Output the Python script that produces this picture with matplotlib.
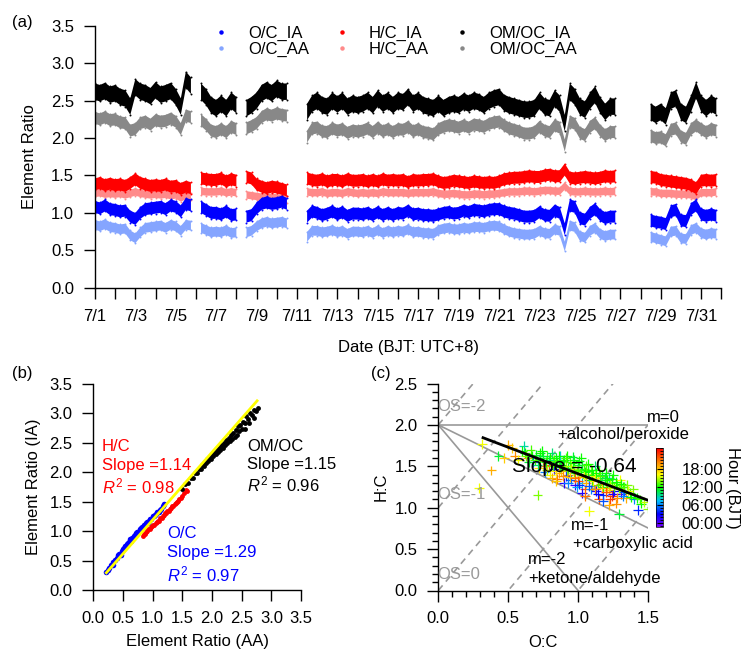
import numpy as np
import matplotlib.pyplot as plt
from matplotlib.colors import LinearSegmentedColormap, Normalize
from matplotlib.lines import Line2D
from matplotlib.ticker import MultipleLocator, FormatStrFormatter

plt.rcParams['font.family'] = ['Liberation Sans', 'DejaVu Sans']
plt.rcParams['font.size'] = 12
plt.rcParams['mathtext.fontset'] = 'custom'
plt.rcParams['mathtext.rm'] = 'Liberation Sans'
plt.rcParams['mathtext.it'] = 'Liberation Sans:italic'

nan = np.nan

# === (a) TIME SERIES, 4 values per day (00, 06, 12, 18 h), days since 7/1 ===
t_days = np.arange(0, 31, 0.25)
tick_days = np.arange(0, 32)
date_labels = ['7/1', '7/3', '7/5', '7/7', '7/9', '7/11', '7/13', '7/15',
               '7/17', '7/19', '7/21', '7/23', '7/25', '7/27', '7/29', '7/31']

omoc_ia = [
    [2.62, 2.60, 2.63, 2.58], [2.60, 2.55, 2.53, 2.42], [2.68, 2.62, 2.60, 2.56],
    [2.64, 2.58, 2.60, 2.63], [2.55, 2.42, 2.78, 2.70], [nan, 2.62, 2.55, 2.44],
    [2.40, 2.46, 2.40, 2.50], [2.44, nan, 2.40, 2.44], [2.50, 2.60, 2.64, 2.60],
    [2.66, 2.62, 2.62, nan], [nan, nan, 2.35, 2.46], [2.50, 2.44, 2.42, 2.50],
    [2.45, 2.50, 2.42, 2.46], [2.44, 2.46, 2.50, 2.44], [2.53, 2.46, 2.50, 2.44],
    [2.50, 2.48, 2.55, 2.46], [2.50, 2.44, 2.42, 2.40], [2.46, 2.40, 2.44, 2.46],
    [2.44, 2.49, 2.46, 2.50], [2.48, 2.44, 2.50, 2.53], [2.55, 2.47, 2.44, 2.42],
    [2.40, 2.38, 2.38, 2.40], [2.50, 2.42, 2.40, 2.53], [2.46, 2.20, 2.62, 2.55],
    [2.42, 2.38, 2.50, 2.58], [2.44, 2.35, 2.42, 2.42], [nan, nan, nan, nan],
    [nan, nan, 2.35, 2.31], [2.35, 2.29, 2.50, 2.53], [2.35, 2.31, 2.46, 2.64],
    [2.46, 2.40, 2.46, 2.42]]
omoc_aa = [
    [2.27, 2.25, 2.28, 2.24], [2.25, 2.21, 2.20, 2.10], [2.12, 2.20, 2.22, 2.18],
    [2.24, 2.22, 2.23, 2.26], [2.22, 2.12, 2.30, 2.28], [nan, 2.24, 2.18, 2.10],
    [2.08, 2.12, 2.08, 2.15], [2.12, nan, 2.13, 2.16], [2.20, 2.28, 2.32, 2.30],
    [2.33, 2.31, 2.30, nan], [nan, nan, 2.02, 2.13], [2.14, 2.09, 2.08, 2.13],
    [2.10, 2.12, 2.07, 2.10], [2.09, 2.10, 2.13, 2.08], [2.14, 2.09, 2.12, 2.08],
    [2.12, 2.11, 2.15, 2.09], [2.12, 2.08, 2.07, 2.05], [2.12, 2.15, 2.17, 2.16],
    [2.14, 2.17, 2.14, 2.18], [2.17, 2.15, 2.19, 2.21], [2.22, 2.17, 2.13, 2.11],
    [2.09, 2.06, 2.06, 2.08], [2.15, 2.10, 2.08, 2.17], [2.14, 1.90, 2.22, 2.19],
    [2.07, 2.04, 2.15, 2.20], [2.10, 2.04, 2.08, 2.08], [nan, nan, nan, nan],
    [nan, nan, 2.03, 2.00], [2.01, 1.97, 2.11, 2.13], [2.02, 1.99, 2.12, 2.17],
    [2.12, 2.08, 2.12, 2.10]]
hc_ia = [
    [1.38, 1.40, 1.37, 1.39], [1.37, 1.38, 1.36, 1.40], [1.45, 1.40, 1.38, 1.36],
    [1.37, 1.36, 1.38, 1.35], [1.36, 1.32, 1.35, 1.33], [nan, 1.46, 1.45, 1.44],
    [1.44, 1.46, 1.42, 1.45], [1.43, nan, 1.48, 1.46], [1.38, 1.35, 1.33, 1.35],
    [1.34, 1.32, 1.30, nan], [nan, nan, 1.46, 1.44], [1.43, 1.45, 1.42, 1.44],
    [1.44, 1.42, 1.45, 1.43], [1.43, 1.44, 1.42, 1.44], [1.42, 1.45, 1.43, 1.44],
    [1.43, 1.44, 1.41, 1.44], [1.43, 1.44, 1.44, 1.45], [1.42, 1.40, 1.41, 1.43],
    [1.42, 1.41, 1.40, 1.42], [1.41, 1.40, 1.41, 1.40], [1.42, 1.45, 1.46, 1.47],
    [1.47, 1.48, 1.49, 1.48], [1.48, 1.50, 1.51, 1.49], [1.49, 1.58, 1.47, 1.46],
    [1.47, 1.48, 1.47, 1.46], [1.47, 1.49, 1.48, 1.49], [nan, nan, nan, nan],
    [nan, nan, 1.48, 1.47], [1.44, 1.43, 1.42, 1.41], [1.40, 1.39, 1.37, 1.33],
    [1.43, 1.44, 1.43, 1.44]]
hc_aa = [
    [1.26, 1.27, 1.25, 1.26], [1.25, 1.26, 1.24, 1.26], [1.28, 1.26, 1.25, 1.24],
    [1.25, 1.24, 1.25, 1.23], [1.24, 1.20, 1.23, 1.22], [nan, 1.29, 1.28, 1.28],
    [1.28, 1.29, 1.27, 1.28], [1.27, nan, 1.24, 1.23], [1.22, 1.21, 1.20, 1.21],
    [1.20, 1.19, 1.18, nan], [nan, nan, 1.28, 1.27], [1.27, 1.28, 1.26, 1.27],
    [1.27, 1.26, 1.28, 1.27], [1.26, 1.27, 1.26, 1.27], [1.26, 1.28, 1.27, 1.27],
    [1.27, 1.27, 1.26, 1.27], [1.27, 1.27, 1.27, 1.28], [1.26, 1.25, 1.25, 1.26],
    [1.25, 1.24, 1.24, 1.25], [1.25, 1.24, 1.25, 1.25], [1.26, 1.27, 1.28, 1.28],
    [1.28, 1.29, 1.29, 1.28], [1.29, 1.30, 1.30, 1.29], [1.29, 1.36, 1.29, 1.28],
    [1.28, 1.29, 1.28, 1.28], [1.28, 1.29, 1.28, 1.29], [nan, nan, nan, nan],
    [nan, nan, 1.28, 1.28], [1.26, 1.26, 1.26, 1.25], [1.25, 1.25, 1.24, 1.22],
    [1.27, 1.27, 1.27, 1.28]]
oc_ia = [
    [1.08, 1.06, 1.10, 1.05], [1.04, 1.02, 1.03, 0.95], [0.92, 1.00, 1.05, 1.06],
    [1.07, 1.08, 1.05, 1.10], [1.08, 1.02, 1.12, 1.10], [nan, 1.08, 1.04, 1.00],
    [1.00, 0.98, 1.02, 0.97], [0.98, nan, 0.95, 0.97], [1.06, 1.12, 1.14, 1.12],
    [1.13, 1.15, 1.12, nan], [nan, nan, 0.95, 1.02], [1.00, 0.97, 0.99, 1.02],
    [0.98, 1.01, 0.96, 0.99], [0.99, 0.98, 1.00, 0.97], [1.01, 0.97, 1.00, 0.97],
    [1.00, 0.99, 1.03, 0.98], [0.99, 0.97, 0.97, 0.96], [0.98, 1.00, 1.01, 0.99],
    [1.00, 1.03, 1.01, 1.04], [1.03, 1.02, 1.04, 1.05], [1.05, 1.02, 1.00, 0.99],
    [0.97, 0.95, 0.95, 0.96], [1.01, 0.97, 0.96, 1.03], [1.00, 0.78, 1.10, 1.08],
    [0.93, 0.91, 1.00, 1.05], [0.97, 0.93, 0.95, 0.95], [nan, nan, nan, nan],
    [nan, nan, 0.90, 0.88], [0.87, 0.85, 1.02, 1.04], [0.90, 0.89, 1.05, 1.10],
    [0.98, 0.96, 0.98, 0.96]]
oc_aa = [
    [0.84, 0.82, 0.85, 0.81], [0.80, 0.78, 0.79, 0.70], [0.66, 0.74, 0.80, 0.81],
    [0.82, 0.83, 0.80, 0.84], [0.82, 0.76, 0.84, 0.83], [nan, 0.80, 0.77, 0.74],
    [0.75, 0.74, 0.77, 0.73], [0.74, nan, 0.74, 0.76], [0.82, 0.86, 0.88, 0.86],
    [0.87, 0.88, 0.86, nan], [nan, nan, 0.68, 0.76], [0.76, 0.74, 0.75, 0.77],
    [0.74, 0.76, 0.72, 0.75], [0.75, 0.74, 0.76, 0.73], [0.77, 0.73, 0.76, 0.74],
    [0.76, 0.75, 0.78, 0.74], [0.75, 0.73, 0.73, 0.72], [0.77, 0.79, 0.80, 0.78],
    [0.78, 0.80, 0.79, 0.81], [0.81, 0.80, 0.82, 0.83], [0.82, 0.78, 0.75, 0.73],
    [0.72, 0.71, 0.71, 0.72], [0.76, 0.73, 0.72, 0.78], [0.76, 0.55, 0.83, 0.81],
    [0.69, 0.67, 0.76, 0.80], [0.72, 0.69, 0.71, 0.71], [nan, nan, nan, nan],
    [nan, nan, 0.68, 0.66], [0.64, 0.62, 0.75, 0.76], [0.66, 0.65, 0.77, 0.80],
    [0.73, 0.71, 0.73, 0.72]]

# visible half-width of each scatter band
spread_omoc_ia, spread_omoc_aa = 0.11, 0.08
spread_hc_ia, spread_hc_aa = 0.08, 0.05
spread_oc_ia, spread_oc_aa = 0.08, 0.065

# === (b) IA vs AA SCATTER ===
b_oc_aa = [0.21, 0.24, 0.27, 0.30, 0.33, 0.34, 0.37, 0.40, 0.42, 0.44, 0.46, 0.48,
           0.50, 0.52, 0.54, 0.56, 0.58, 0.60, 0.62, 0.64, 0.66, 0.68, 0.70, 0.72,
           0.74, 0.76, 0.78, 0.80, 0.82, 0.84, 0.86, 0.88, 0.90, 0.92, 0.94, 0.96,
           0.98, 1.00, 1.02, 1.04, 1.06, 1.08, 1.10, 1.12, 1.14, 1.17, 1.19]
b_oc_ia = [0.30, 0.34, 0.38, 0.42, 0.48, 0.43, 0.51, 0.55, 0.59, 0.62, 0.60, 0.66,
           0.69, 0.72, 0.74, 0.78, 0.80, 0.82, 0.86, 0.84, 0.89, 0.92, 0.94, 0.96,
           0.99, 0.98, 1.03, 1.05, 1.07, 1.06, 1.11, 1.13, 1.15, 1.14, 1.18, 1.21,
           1.21, 1.25, 1.25, 1.28, 1.29, 1.32, 1.33, 1.36, 1.38, 1.42, 1.46]
b_hc_aa = [0.83, 0.85, 0.87, 0.89, 0.91, 0.93, 0.95, 0.97, 0.99, 1.01, 1.03, 1.05,
           1.07, 1.09, 1.11, 1.13, 1.15, 1.17, 1.19, 1.21, 1.23, 1.25, 1.27, 1.29,
           1.31, 1.33, 1.35, 1.37, 1.39, 1.41, 1.43, 1.45, 1.47, 1.50, 1.53, 1.56, 1.58]
b_hc_ia = [0.91, 0.95, 0.95, 0.99, 1.00, 1.03, 1.03, 1.07, 1.08, 1.10, 1.11, 1.14,
           1.15, 1.18, 1.18, 1.22, 1.23, 1.25, 1.27, 1.30, 1.31, 1.34, 1.35, 1.38,
           1.39, 1.42, 1.43, 1.46, 1.48, 1.50, 1.52, 1.55, 1.56, 1.60, 1.64, 1.70, 1.68]
b_omoc_aa = [1.50, 1.55, 1.60, 1.64, 1.68, 1.72, 1.75, 1.78, 1.81, 1.84, 1.86, 1.88,
             1.90, 1.92, 1.94, 1.96, 1.98, 2.00, 2.02, 2.04, 2.06, 2.08, 2.10, 2.12,
             2.14, 2.16, 2.18, 2.20, 2.22, 2.24, 2.26, 2.28, 2.30, 2.32, 2.34, 2.36,
             2.38, 2.40, 2.42, 2.44, 2.46, 2.48, 2.50, 2.52, 2.55, 2.58, 2.61, 2.64,
             2.67, 2.70, 2.74, 2.78, 2.55, 2.62, 2.70]
b_omoc_ia = [1.71, 1.80, 1.82, 1.90, 1.91, 1.99, 1.99, 2.06, 2.05, 2.13, 2.10, 2.17,
             2.16, 2.22, 2.19, 2.26, 2.23, 2.30, 2.27, 2.34, 2.31, 2.38, 2.35, 2.42,
             2.38, 2.46, 2.42, 2.50, 2.46, 2.55, 2.50, 2.59, 2.53, 2.63, 2.57, 2.67,
             2.60, 2.72, 2.64, 2.78, 2.70, 2.80, 2.73, 2.86, 2.84, 2.95, 2.90, 3.01,
             2.98, 3.05, 3.04, 3.09, 2.74, 2.84, 2.92]
b_fit_x = [0.22, 2.76]
b_fit_slope, b_fit_intercept = 1.15, 0.04

# === (c) VAN KREVELEN ===
vk_oc = [0.31, 0.38, 0.29, 0.43, 0.47, 0.50, 0.53, 0.55, 0.57, 0.61, 0.62, 0.64,
         0.66, 0.68, 0.70, 0.71, 0.72, 0.74, 0.75, 0.76, 0.78, 0.79, 0.80, 0.81,
         0.82, 0.83, 0.84, 0.85, 0.86, 0.87, 0.88, 0.89, 0.90, 0.91, 0.92, 0.93,
         0.94, 0.95, 0.96, 0.97, 0.98, 0.99, 1.00, 1.01, 1.02, 1.03, 1.04, 1.05,
         1.06, 1.07, 1.08, 1.08, 1.09, 1.10, 1.11, 1.12, 1.13, 1.14, 1.15, 1.16,
         1.17, 1.18, 1.19, 1.20, 1.21, 1.22, 1.23, 1.24, 1.25, 1.26, 1.27, 1.28,
         1.29, 1.30, 1.31, 1.32, 1.34, 1.35, 1.37, 1.40, 1.43, 1.45, 1.47, 1.50,
         0.83, 0.88, 0.93, 0.97, 1.02, 1.06, 1.10, 1.14, 1.18, 1.22, 0.79, 0.86,
         0.95, 1.00, 1.05, 1.12, 1.16, 1.20, 1.26, 1.30, 0.73, 0.77, 0.91, 1.03,
         1.09, 1.24, 1.33, 1.15, 0.99, 0.84,
         0.60, 0.63, 0.65, 0.67, 0.69, 0.71, 0.73, 0.75, 0.77, 0.78, 0.80, 0.82,
         0.84, 0.85, 0.87, 0.89, 0.90, 0.92, 0.94, 0.96, 0.98, 1.00, 1.01, 1.03,
         1.04, 1.06, 1.07, 1.08, 1.10, 1.11, 1.12, 1.13, 1.14, 1.16, 1.17, 1.19,
         1.20, 1.21, 1.23, 1.24, 1.25, 1.27, 1.28, 1.29, 1.31, 1.32, 1.33, 1.36,
         1.38, 1.39, 1.42, 1.44, 0.86, 0.91, 0.96, 1.01, 1.06, 0.81, 0.93, 1.05,
         1.18, 1.22]
vk_hc = [1.77, 1.45, 1.24, 1.62, 1.60, 1.76, 1.72, 1.63, 1.58, 1.75, 1.66, 1.60,
         1.70, 1.55, 1.64, 1.15, 1.48, 1.68, 1.57, 1.43, 1.62, 1.52, 1.40, 1.66,
         1.56, 1.47, 1.60, 1.35, 1.52, 1.63, 1.44, 1.57, 1.30, 1.50, 1.62, 1.40,
         1.55, 1.34, 1.47, 1.58, 1.27, 1.44, 1.52, 1.37, 1.60, 1.30, 1.47, 1.22,
         1.41, 1.53, 0.96, 1.34, 1.46, 1.26, 1.40, 1.50, 1.20, 1.36, 1.45, 1.29,
         1.40, 1.15, 1.33, 1.42, 1.24, 1.36, 1.10, 1.30, 1.39, 1.20, 1.05, 1.28,
         0.92, 1.34, 1.17, 1.25, 1.12, 1.27, 1.18, 1.10, 0.97, 1.05, 1.07, 0.99,
         1.58, 1.52, 1.48, 1.42, 1.45, 1.36, 1.33, 1.28, 1.25, 1.21, 1.58, 1.42,
         1.50, 1.32, 1.43, 1.38, 1.34, 1.30, 1.25, 1.22, 1.60, 1.50, 1.38, 1.18,
         1.22, 1.14, 1.19, 1.10, 1.25, 1.32,
         1.68, 1.62, 1.55, 1.63, 1.58, 1.52, 1.66, 1.62, 1.55, 1.45, 1.60, 1.50,
         1.44, 1.55, 1.49, 1.38, 1.58, 1.45, 1.37, 1.54, 1.36, 1.46, 1.28, 1.52,
         1.38, 1.30, 1.44, 1.26, 1.45, 1.32, 1.22, 1.42, 1.17, 1.38, 1.24, 1.36,
         1.19, 1.33, 1.27, 1.35, 1.16, 1.31, 1.12, 1.24, 1.29, 1.14, 1.25, 1.20,
         1.13, 1.22, 1.12, 1.10, 1.62, 1.60, 1.61, 1.56, 1.51, 1.36, 1.30, 1.14,
         1.08, 1.03]
vk_hour = [16, 19, 16, 11, 18, 19, 18, 20, 16, 9, 12, 20,
           13, 5, 11, 14, 17, 12, 19, 6, 13, 22, 16, 10,
           14, 3, 12, 21, 13, 8, 18, 11, 2, 15, 12, 20,
           13, 5, 17, 12, 1, 14, 11, 19, 12, 7, 13, 22,
           16, 12, 16, 3, 14, 19, 12, 10, 2, 17, 13, 21,
           11, 4, 15, 12, 18, 9, 23, 14, 12, 3, 20, 13,
           11, 16, 1, 12, 19, 14, 12, 6, 4, 12, 15, 14,
           13, 12, 11, 13, 12, 14, 12, 13, 12, 18, 10, 19,
           15, 22, 12, 16, 11, 14, 13, 17, 12, 20, 4, 2,
           6, 23, 5, 22, 7, 18,
           12, 14, 11, 12, 13, 10, 12, 11, 12, 15, 12, 13,
           17, 12, 11, 20, 12, 14, 18, 12, 21, 13, 4, 11,
           16, 19, 12, 5, 12, 17, 20, 12, 3, 13, 18, 11,
           22, 12, 15, 12, 2, 12, 20, 14, 12, 6, 13, 16,
           12, 14, 12, 13, 12, 13, 11, 12, 13, 19, 6, 21,
           5, 19]
vk_fit_x = [0.32, 1.50]
vk_fit_slope, vk_fit_intercept = -0.64, 2.05
os_levels = [-2, -1, 0, 1, 2]
m_slopes = [0.0, -0.83, -2.0]
hour_ticks = [0, 6, 12, 18]
hour_labels = ['00:00', '06:00', '12:00', '18:00']

# === COLORS ===
C_OC_IA, C_OC_AA = '#0000ff', '#85a5ff'
C_HC_IA, C_HC_AA = '#ff0000', '#ff8a8a'
C_OM_IA, C_OM_AA = '#000000', '#888888'
C_GUIDE = '#999999'
hour_cmap = LinearSegmentedColormap.from_list(
    'igor_rainbow', ['#7a00ff', '#0000ff', '#00c0ff', '#00ff00', '#ffff00', '#ff8000', '#ff0000'])


def style_axes(ax):
    for side in ('top', 'right'):
        ax.spines[side].set_visible(False)
    for side in ('left', 'bottom'):
        ax.spines[side].set_linewidth(1.0)
    ax.tick_params(which='major', direction='out', length=8, width=1, pad=7, labelsize=12)
    ax.tick_params(which='minor', direction='out', length=4, width=1)


fig = plt.figure(figsize=(7.44, 6.5), dpi=100)

# === PANEL (a) ===
ax_a = fig.add_axes([0.1276, 0.5574, 0.842, 0.4028])
bands = [
    (omoc_aa, spread_omoc_aa, C_OM_AA), (omoc_ia, spread_omoc_ia, C_OM_IA),
    (hc_aa, spread_hc_aa, C_HC_AA), (hc_ia, spread_hc_ia, C_HC_IA),
    (oc_aa, spread_oc_aa, C_OC_AA), (oc_ia, spread_oc_ia, C_OC_IA),
]
for vals, spread, color in bands:
    v = np.ravel(vals)
    ax_a.fill_between(t_days, v - spread, v + spread, color=color, lw=0)
    ax_a.scatter(t_days, v + spread, s=2, color=color, lw=0)
    ax_a.scatter(t_days, v - spread, s=2, color=color, lw=0)

ax_a.set_xlim(0, 31)
ax_a.set_ylim(0, 3.5)
ax_a.set_xticks(tick_days)
ax_a.set_xticklabels([date_labels[i // 2] if i % 2 == 0 else '' for i in tick_days])
ax_a.yaxis.set_major_locator(MultipleLocator(0.5))
ax_a.yaxis.set_major_formatter(FormatStrFormatter('%.1f'))
style_axes(ax_a)
ax_a.set_ylabel('Element Ratio', fontsize=12, labelpad=10)
ax_a.set_xlabel('Date (BJT: UTC+8)', fontsize=12, labelpad=12)

handles = [Line2D([], [], ls='none', marker='o', ms=2.2, color=c)
           for c in (C_OC_IA, C_OC_AA, C_HC_IA, C_HC_AA, C_OM_IA, C_OM_AA)]
labels = ['O/C_IA', 'O/C_AA', 'H/C_IA', 'H/C_AA', 'OM/OC_IA', 'OM/OC_AA']
fig.legend(handles, labels, ncol=3, loc='upper center', bbox_to_anchor=(0.533, 0.983),
           frameon=False, fontsize=12, handlelength=0.6, handletextpad=1.3,
           columnspacing=1.7, labelspacing=0.05)
fig.text(12 / 744, 1 - 22 / 650, '(a)', fontsize=12, va='center')

# === PANEL (b) ===
ax_b = fig.add_axes([93.3 / 744, 1 - 590 / 650, 207.7 / 744, 206 / 650])
ax_b.plot(b_oc_aa, b_oc_ia, ls='none', marker='o', ms=4, color=C_OC_IA, mew=0)
ax_b.plot(b_hc_aa, b_hc_ia, ls='none', marker='o', ms=3.5, color=C_HC_IA, mew=0)
ax_b.plot(b_omoc_aa, b_omoc_ia, ls='none', marker='o', ms=3.5, color=C_OM_IA, mew=0)
fx = np.array(b_fit_x)
ax_b.plot(fx, b_fit_slope * fx + b_fit_intercept, color='#ffff00', lw=2)
ax_b.set_xlim(0, 3.5)
ax_b.set_ylim(0, 3.5)
ax_b.xaxis.set_major_locator(MultipleLocator(0.5))
ax_b.yaxis.set_major_locator(MultipleLocator(0.5))
ax_b.xaxis.set_major_formatter(FormatStrFormatter('%.1f'))
ax_b.yaxis.set_major_formatter(FormatStrFormatter('%.1f'))
style_axes(ax_b)
ax_b.set_xlabel('Element Ratio (AA)', fontsize=12, labelpad=6)
ax_b.set_ylabel('Element Ratio (IA)', fontsize=12, labelpad=6)
ax_b.text(0.14, 2.44, 'H/C', color=C_HC_IA, va='center')
ax_b.text(0.14, 2.11, 'Slope =1.14', color=C_HC_IA, va='center')
ax_b.text(0.14, 1.76, r'$R^2$ = 0.98', color=C_HC_IA, va='center')
ax_b.text(2.59, 2.44, 'OM/OC', color='black', va='center')
ax_b.text(2.59, 2.13, 'Slope =1.15', color='black', va='center')
ax_b.text(2.59, 1.80, r'$R^2$ = 0.96', color='black', va='center')
ax_b.text(1.24, 0.96, 'O/C', color=C_OC_IA, va='center')
ax_b.text(1.24, 0.64, 'Slope =1.29', color=C_OC_IA, va='center')
ax_b.text(1.24, 0.27, r'$R^2$ = 0.97', color=C_OC_IA, va='center')
fig.text(12 / 744, 1 - 373 / 650, '(b)', fontsize=12, va='center')

# === PANEL (c) ===
ax_c = fig.add_axes([438.3 / 744, 1 - 590.5 / 650, 209.7 / 744, 207 / 650])
gx = np.array([0.0, 1.5])
for os_val in os_levels:
    ax_c.plot(gx, 2 * gx - os_val, color=C_GUIDE, lw=1.2, ls=(0, (4, 3)))
for m in m_slopes:
    ax_c.plot(gx, 2 + m * gx, color=C_GUIDE, lw=1.2)
norm = Normalize(vmin=-1.3, vmax=25)
sc = ax_c.scatter(vk_oc, vk_hc, c=vk_hour, cmap=hour_cmap, norm=norm, marker='+',
                  s=50, linewidths=0.9, zorder=3)
vx = np.array(vk_fit_x)
ax_c.plot(vx, vk_fit_slope * vx + vk_fit_intercept, color='black', lw=2, zorder=4)
ax_c.text(0.53, 1.50, 'Slope = -0.64', fontsize=15, va='center', zorder=5)
ax_c.text(-0.01, 2.22, 'OS=-2', color=C_GUIDE, va='center')
ax_c.text(-0.01, 1.16, 'OS=-1', color=C_GUIDE, va='center')
ax_c.text(-0.01, 0.19, 'OS=0', color=C_GUIDE, va='center')
ax_c.text(1.49, 2.09, 'm=0', va='center', clip_on=False)
ax_c.text(0.85, 1.88, '+alcohol/peroxide', va='center', clip_on=False)
ax_c.text(0.95, 0.78, 'm=-1', va='center', clip_on=False)
ax_c.text(0.96, 0.57, '+carboxylic acid', va='center', clip_on=False)
ax_c.text(0.64, 0.37, 'm=-2', va='center', clip_on=False)
ax_c.text(0.64, 0.15, '+ketone/aldehyde', va='center', clip_on=False)
ax_c.set_xlim(0, 1.5)
ax_c.set_ylim(0, 2.5)
ax_c.xaxis.set_major_locator(MultipleLocator(0.5))
ax_c.xaxis.set_minor_locator(MultipleLocator(0.1))
ax_c.yaxis.set_major_locator(MultipleLocator(0.5))
ax_c.yaxis.set_minor_locator(MultipleLocator(0.1))
ax_c.xaxis.set_major_formatter(FormatStrFormatter('%.1f'))
ax_c.yaxis.set_major_formatter(FormatStrFormatter('%.1f'))
style_axes(ax_c)
ax_c.set_xlabel('O:C', fontsize=12, labelpad=6)
ax_c.set_ylabel('H:C', fontsize=12, labelpad=4)
fig.text(371 / 744, 1 - 373 / 650, '(c)', fontsize=12, va='center')

cax = fig.add_axes([655.7 / 744, 1 - 527.3 / 650, 7 / 744, 79 / 650])
cb = fig.colorbar(sc, cax=cax, ticks=hour_ticks)
cb.set_ticklabels(hour_labels)
cb.ax.yaxis.set_minor_locator(MultipleLocator(1))
cb.ax.tick_params(which='major', direction='in', length=4, width=0.8, labelsize=12, pad=13.5)
cb.ax.tick_params(which='minor', direction='in', length=2.5, width=0.6)
cb.outline.set_linewidth(0.5)
cb.set_label('Hour (BJT)', rotation=270, fontsize=12, labelpad=12)

fig.savefig('out.png', dpi=100)
